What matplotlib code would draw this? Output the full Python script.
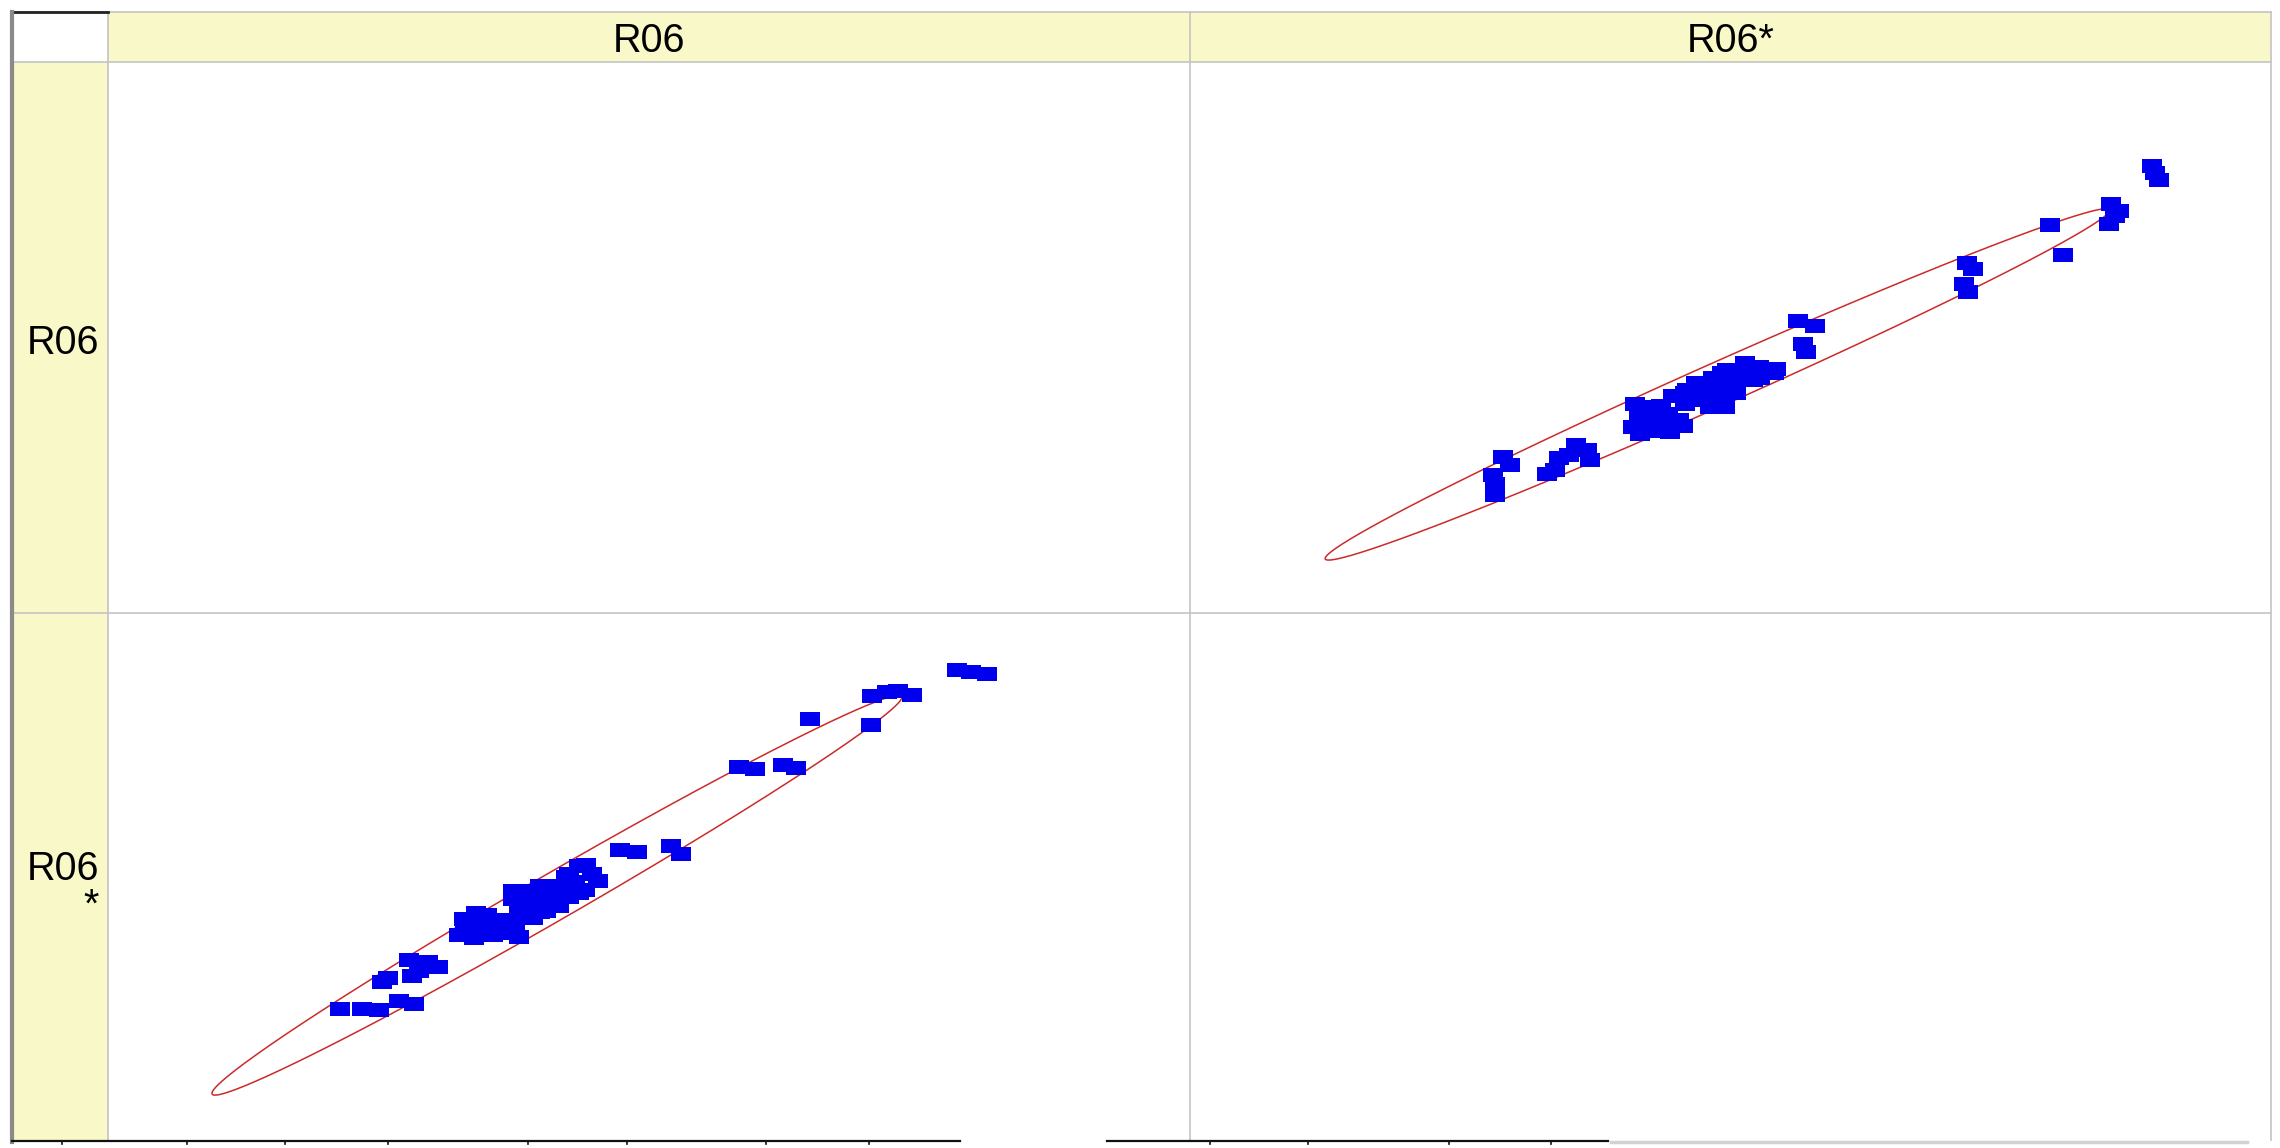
import matplotlib
matplotlib.use("Agg")
import matplotlib.pyplot as plt
import numpy as np
from matplotlib.patches import Rectangle

plt.rcParams["font.family"] = ["Liberation Sans", "DejaVu Sans"]

# data: paired values of the two variables (same rows drawn in both cells)
r06 = [78.5, 79.8, 81.2,
       70.6, 72.0, 73.0, 74.3,
       70.5, 64.9,
       58.3, 59.8, 62.4, 63.6,
       47.3, 48.9, 52.0, 53.0,
       44.2, 45.3, 43.2, 42.6, 44.1, 42.6, 41.1, 38.9, 41.1, 38.7, 37.4,
       40.5, 38.0, 39.3, 36.2, 37.4, 35.6, 34.4, 33.2, 32.9, 33.8, 35.0, 37.4,
       38.0, 36.4, 34.6, 33.0, 37.6, 35.4, 34.0, 32.4,
       39.9, 39.3, 43.5, 39.9, 42.3, 44.7, 43.5, 41.7, 40.6, 42.0,
       30.5, 29.6, 28.7, 27.8, 28.1, 25.3, 25.9, 26.9, 28.3, 25.0, 23.5, 21.4]
r06_star = [89.6, 89.3, 89.0,
            85.0, 85.6, 85.9, 85.2,
            79.6, 80.8,
            72.0, 71.6, 72.4, 71.9,
            57.0, 56.7, 57.8, 56.2,
            54.2, 51.3, 51.1, 52.7, 49.7, 48.4, 50.5, 49.5, 47.3, 46.8, 48.1,
            46.0, 45.8, 44.7, 44.2, 42.0, 41.5, 43.1, 42.0, 44.4, 41.0, 45.2, 49.5,
            41.2, 42.6, 42.3, 43.2, 43.6, 43.8, 45.6, 41.6,
            45.8, 47.9, 49.2, 50.5, 52.1, 52.6, 54.0, 46.8, 49.0, 50.0,
            35.7, 36.7, 35.1, 37.0, 34.1, 33.0, 33.8, 29.6, 29.0, 28.0, 28.2, 28.2]
var_names = ["R06", "R06*"]
row_labels = [["R06"], ["R06", "*"]]

# 95% density ellipse parameters
mean_r06, mean_r06_star = 41.5, 48.8
sd_r06, sd_r06_star = 13.03, 14.83
corr = 0.991
ellipse_level = 0.95

axis_range = (0, 100)

# bottom ruler left over from the cut-off next row
ruler_segments = [(12, 960), (1107, 1608)]
ruler_ticks = [62, 187, 285, 388, 528, 627, 766, 869, 1210, 1308, 1449, 1551]

W, H = 2280, 1148
LEFT, LABEL_R, SPLIT_X, RIGHT = 12, 108, 1190, 2271
TOP, HEAD_B, SPLIT_Y, BOTTOM = 12, 62, 613, 1140
YELLOW = "#f8f8c8"
GRID = "#c4c4c4"


def density_ellipse(mx, my, sx, sy, r, level, n=500):
    c = np.sqrt(-2 * np.log(1 - level))
    cov = np.array([[sx * sx, r * sx * sy], [r * sx * sy, sy * sy]])
    chol = np.linalg.cholesky(cov)
    t = np.linspace(0, 2 * np.pi, n)
    pts = chol @ np.vstack([np.cos(t), np.sin(t)]) * c
    return mx + pts[0], my + pts[1]


def cell_axes(fig, x0, y0, x1, y1):
    ax = fig.add_axes([x0 / W, 1 - y1 / H, (x1 - x0) / W, (y1 - y0) / H])
    ax.set_facecolor("none")
    ax.set_axis_off()
    return ax


# rectangular markers, wider than tall
marker = [(-1, -0.7), (1, -0.7), (1, 0.7), (-1, 0.7), (-1, -0.7)]
MSIZE = 14.2 ** 2
BLUE = "#0000ee"
RED = "#cc2a2a"

fig = plt.figure(figsize=(W / 100, H / 100), dpi=100)
bg = fig.add_axes([0, 0, 1, 1])
bg.set_xlim(0, W)
bg.set_ylim(H, 0)
bg.set_axis_off()

# header strip and label column
bg.add_patch(Rectangle((LABEL_R, TOP), RIGHT - LABEL_R, HEAD_B - TOP, color=YELLOW, lw=0))
bg.add_patch(Rectangle((LEFT, HEAD_B), LABEL_R - LEFT, BOTTOM - HEAD_B, color=YELLOW, lw=0))

for x in [LABEL_R, SPLIT_X, RIGHT]:
    bg.plot([x, x], [TOP, BOTTOM], color=GRID, lw=1.2)
for y in [TOP, HEAD_B, SPLIT_Y]:
    bg.plot([LEFT, RIGHT], [y, y], color=GRID, lw=1.2)
bg.plot([LEFT, LABEL_R], [TOP, TOP], color="#222222", lw=2)
bg.plot([LEFT - 0.5, LEFT - 0.5], [TOP, BOTTOM + 2], color="#8a8a8a", lw=3)

for x0, x1 in ruler_segments:
    bg.plot([x0, x1], [BOTTOM + 1, BOTTOM + 1], color="#111111", lw=1.6)
for x in ruler_ticks:
    bg.plot([x, x], [BOTTOM + 1, BOTTOM + 4], color="#111111", lw=1.2)
bg.plot([1611, 2247], [BOTTOM + 2, BOTTOM + 2], color="#d2d2d2", lw=2.5)

# column headers
col_centres = [(LABEL_R + SPLIT_X) / 2, (SPLIT_X + RIGHT) / 2]
for cx, name in zip(col_centres, var_names):
    bg.text(cx, 52, name, ha="center", va="baseline", fontsize=28.5)

# row labels
bg.text(99, 354, row_labels[0][0], ha="right", va="baseline", fontsize=28.5)
bg.text(99, 880, row_labels[1][0], ha="right", va="baseline", fontsize=28.5)
bg.text(99, 917, row_labels[1][1], ha="right", va="baseline", fontsize=28.5)

# top-right cell: x = R06*, y = R06
ax_tr = cell_axes(fig, SPLIT_X, HEAD_B, RIGHT, SPLIT_Y)
ax_tr.set_xlim(*axis_range)
ax_tr.set_ylim(*axis_range)
ex, ey = density_ellipse(mean_r06_star, mean_r06, sd_r06_star, sd_r06, corr, ellipse_level)
ax_tr.plot(ex, ey, color=RED, lw=1.1, zorder=1)
ax_tr.scatter(r06_star, r06, marker=marker, s=MSIZE, color=BLUE, lw=0, zorder=2)

# bottom-left cell: x = R06, y = R06* (row is cut off at the bottom)
ax_bl = cell_axes(fig, LABEL_R, SPLIT_Y, SPLIT_X, BOTTOM)
ax_bl.set_xlim(*axis_range)
ax_bl.set_ylim(100 - (BOTTOM - SPLIT_Y) / 5.51, axis_range[1])
ex, ey = density_ellipse(mean_r06, mean_r06_star, sd_r06, sd_r06_star, corr, ellipse_level)
ax_bl.plot(ex, ey, color=RED, lw=1.1, zorder=1)
ax_bl.scatter(r06, r06_star, marker=marker, s=MSIZE, color=BLUE, lw=0, zorder=2)

fig.savefig("out.png", dpi=100, facecolor="white")
